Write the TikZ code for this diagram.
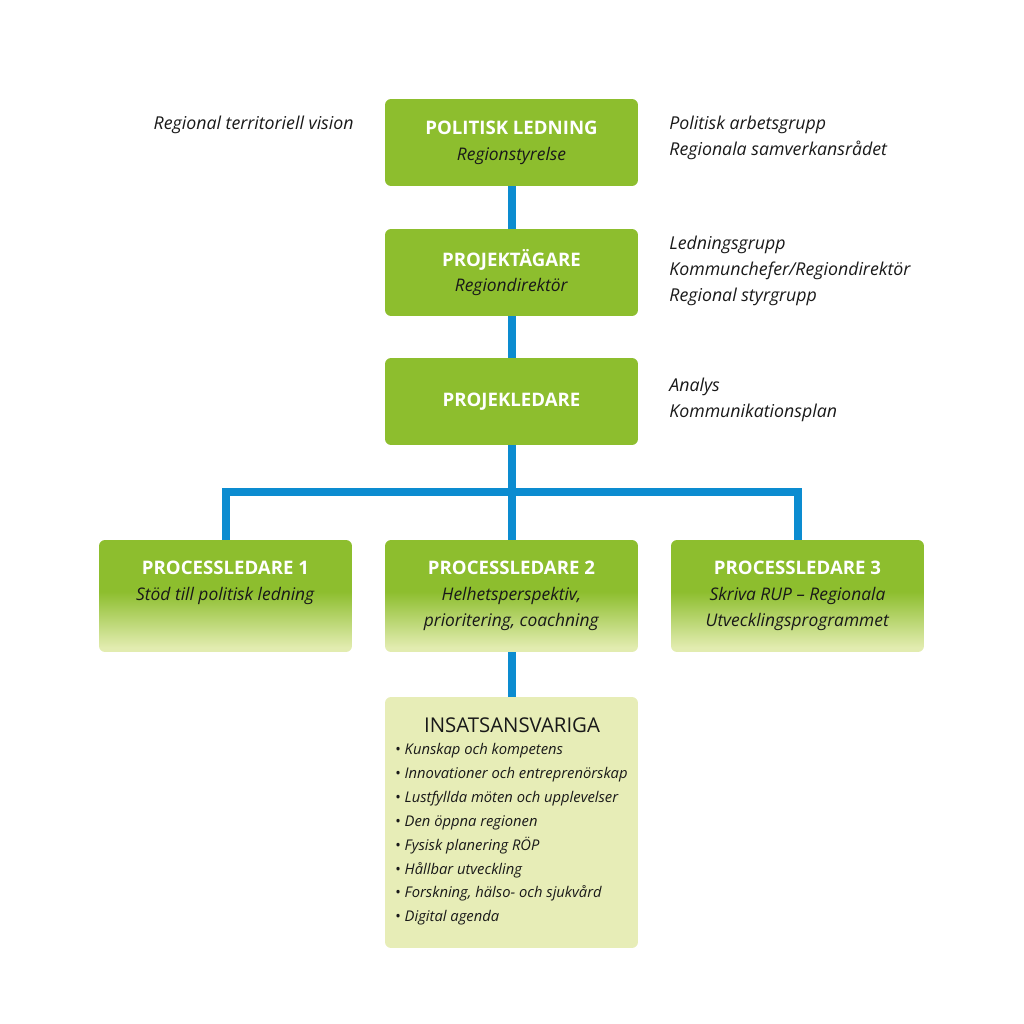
\documentclass[tikz,border=0pt]{standalone}
\usepackage{fontspec}
\setmainfont{Open Sans}
\definecolor{leadgreen}{RGB}{141,190,46}
\definecolor{fadegreen}{RGB}{226,236,176}
\definecolor{taskfill}{RGB}{231,237,183}
\definecolor{linkblue}{RGB}{12,140,208}
\definecolor{inktext}{RGB}{25,25,25}
\pgfdeclareverticalshading{procfade}{100bp}{color(0bp)=(fadegreen); color(27bp)=(fadegreen); color(52bp)=(leadgreen); color(100bp)=(leadgreen)}
\newcommand\bhead[1]{{\fontsize{10.6}{14.7}\selectfont\bfseries\color{white}#1}}
\tikzset{
  orgbox/.style={rounded corners=0.12cm, minimum width=5.06cm, inner sep=0pt, align=center,
    text=inktext, font=\fontsize{9.9}{14.7}\selectfont},
  leadbox/.style={orgbox, fill=leadgreen, minimum height=1.74cm},
  procbox/.style={orgbox, shading=procfade, minimum height=2.24cm},
  sidetext/.style={align=left, inner sep=0pt, text=inktext, font=\fontsize{10.1}{14.7}\selectfont\itshape},
  conn/.style={draw=linkblue, line width=0.16cm}
}
\begin{document}
\begin{tikzpicture}[x=0.02cm,y=-0.02cm]
  \useasboundingbox (0,0) rectangle (1024,1024);

  % chain of command
  \node[leadbox] (pol) at (511.5,142.5) {\bhead{POLITISK LEDNING}\\\textit{Regionstyrelse}};
  \node[leadbox] (own) at (511.5,272.5) {\bhead{PROJEKTÄGARE}\\\textit{Regiondirektör}};
  \node[leadbox] (lead) at (511.5,401.5) {\bhead{PROJEKLEDARE}};

  % process leaders
  \node[procbox] (proc1) at (225.5,596) {\bhead{PROCESSLEDARE 1}\\\textit{Stöd till politisk ledning}\\\vphantom{Ag}};
  \node[procbox] (proc2) at (511.5,596) {\bhead{PROCESSLEDARE 2}\\\textit{Helhetsperspektiv,}\\\textit{prioritering, coachning}};
  \node[procbox] (proc3) at (797.5,596) {\bhead{PROCESSLEDARE 3}\\\textit{Skriva RUP -- Regionala}\\\textit{Utvecklingsprogrammet}};

  % task owners
  \node[orgbox, fill=taskfill, minimum height=5.02cm] (insat) at (511.5,822.5) {};
  \node[text=inktext, inner sep=0pt, font=\fontsize{11.6}{12}\selectfont] (insathead) at (512,725) {INSATSANSVARIGA};
  \node[sidetext, anchor=north west, font=\fontsize{8.4}{13.6}\selectfont] (insatlist) at (395,743)
    {\textbullet\ \textit{Kunskap och kompetens}\\
     \textbullet\ \textit{Innovationer och entreprenörskap}\\
     \textbullet\ \textit{Lustfyllda möten och upplevelser}\\
     \textbullet\ \textit{Den öppna regionen}\\
     \textbullet\ \textit{Fysisk planering RÖP}\\
     \textbullet\ \textit{Hållbar utveckling}\\
     \textbullet\ \textit{Forskning, hälso- och sjukvård}\\
     \textbullet\ \textit{Digital agenda}};

  % side notes
  \node[sidetext, anchor=base east] (vision) at (354,130) {Regional territoriell vision};
  \node[sidetext, anchor=west] (polnote) at (669,138) {Politisk arbetsgrupp\\Regionala samverkansrådet};
  \node[sidetext, anchor=west] (ownnote) at (669,271) {Ledningsgrupp\\Kommunchefer/Regiondirektör\\Regional styrgrupp};
  \node[sidetext, anchor=west] (leadnote) at (669,400) {Analys\\Kommunikationsplan};

  % connectors
  \coordinate (fork) at (511.5,492);
  \draw[conn] (pol) -- (own);
  \draw[conn] (own) -- (lead);
  \draw[conn] (lead) -- (proc2);
  \draw[conn] (proc1.north) |- (fork) -| (proc3.north);
  \draw[conn] (proc2) -- (insat);
\end{tikzpicture}
\end{document}
